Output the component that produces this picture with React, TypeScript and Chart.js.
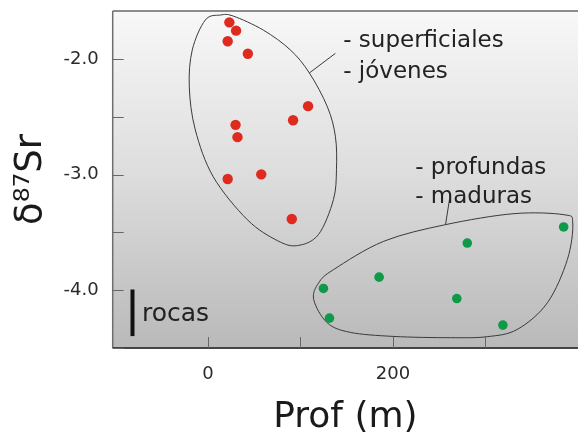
import React, { useEffect, useRef } from "react";
import { Chart, registerables } from "chart.js";

Chart.register(...registerables);

// ---- data ----
const youngX = [23.1, 30.4, 21.3, 43.1, 108.2, 92.0, 29.8, 31.9, 21.3, 57.6, 90.6];
const youngY = [-1.683, -1.755, -1.847, -1.955, -2.408, -2.53, -2.57, -2.676, -3.038, -2.998, -3.384];
const oldX = [384.5, 280.3, 185.0, 124.8, 269.0, 131.3, 318.8];
const oldY = [-3.453, -3.592, -3.887, -3.985, -4.072, -4.242, -4.302];

const xTickValues = [0, 100, 200, 300, 400];
const xTickLabels = [0, 200];
const yTickValues = [-4.5, -4.0, -3.5, -3.0, -2.5, -2.0];
const yTickLabels = [-4.0, -3.0, -2.0];

// group outlines (data coordinates)
const youngOutlineX = [-2.9, 13.3, 27.4, 59.8, 89.1, 109.6, 129.1, 137.8, 138.9, 135.6, 119.4, 96.6, 75.0, 42.5, 5.7, -13.7, -20.2, -17.0];
const youngOutlineY = [-1.663, -1.62, -1.629, -1.75, -1.922, -2.121, -2.414, -2.673, -2.958, -3.217, -3.519, -3.614, -3.571, -3.39, -3.019, -2.613, -2.242, -1.922];
const oldOutlineX = [114.3, 128.8, 154.0, 200.9, 262.0, 301.9, 334.4, 366.9, 388.5, 394.3, 384.8, 330.7, 256.8, 190.0, 135.9, 119.7];
const oldOutlineY = [-4.08, -4.281, -4.365, -4.4, -4.411, -4.402, -4.339, -4.109, -3.735, -3.418, -3.347, -3.338, -3.433, -3.577, -3.821, -3.936];

// leader lines [x0, y0, x1, y1]
const youngLeader = [109.6, -2.121, 137.8, -1.951];
const oldLeader = [256.8, -3.433, 261.2, -3.209];

// annotation labels
const youngLabels = ["- superficiales", "- jóvenes"];
const youngLabelX = [146.2, 146.2];
const youngLabelY = [-1.845, -2.11];
const oldLabels = ["- profundas", "- maduras"];
const oldLabelX = [224.0, 224.0];
const oldLabelY = [-2.941, -3.191];
const rocasLabel = "rocas";
const rocasBarX = -81.6;
const rocasBarY = [-3.994, -4.397];
const rocasLabelX = -71.4;
const rocasLabelY = -4.21;

const FONT = "'DejaVu Sans', sans-serif";

function closedSpline(ctx: CanvasRenderingContext2D, pts: { x: number; y: number }[], t = 0.5) {
  const n = pts.length;
  ctx.beginPath();
  ctx.moveTo(pts[0].x, pts[0].y);
  for (let i = 0; i < n; i++) {
    const p0 = pts[(i - 1 + n) % n];
    const p1 = pts[i];
    const p2 = pts[(i + 1) % n];
    const p3 = pts[(i + 2) % n];
    const c1x = p1.x + ((p2.x - p0.x) / 6) * t * 2;
    const c1y = p1.y + ((p2.y - p0.y) / 6) * t * 2;
    const c2x = p2.x - ((p3.x - p1.x) / 6) * t * 2;
    const c2y = p2.y - ((p3.y - p1.y) / 6) * t * 2;
    ctx.bezierCurveTo(c1x, c1y, c2x, c2y, p2.x, p2.y);
  }
  ctx.closePath();
}

const decorPlugin = {
  id: "decor",
  beforeDraw(chart: any) {
    const { ctx, chartArea: a } = chart;
    const g = ctx.createLinearGradient(0, a.top, 0, a.bottom);
    g.addColorStop(0, "#f8f8f8");
    g.addColorStop(0.5, "#dcdcdc");
    g.addColorStop(1, "#b9b9b9");
    ctx.save();
    ctx.fillStyle = g;
    ctx.fillRect(a.left, a.top, a.right - a.left, a.bottom - a.top);
    ctx.restore();
  },
  beforeDatasetsDraw(chart: any) {
    const { ctx } = chart;
    const xs = chart.scales.x;
    const ys = chart.scales.y;
    const P = (x: number, y: number) => ({ x: xs.getPixelForValue(x), y: ys.getPixelForValue(y) });
    ctx.save();
    ctx.strokeStyle = "#3a3a3a";
    ctx.lineWidth = 1;
    closedSpline(ctx, youngOutlineX.map((x, i) => P(x, youngOutlineY[i])));
    ctx.stroke();
    closedSpline(ctx, oldOutlineX.map((x, i) => P(x, oldOutlineY[i])));
    ctx.stroke();
    for (const L of [youngLeader, oldLeader]) {
      const a = P(L[0], L[1]);
      const b = P(L[2], L[3]);
      ctx.beginPath();
      ctx.moveTo(a.x, a.y);
      ctx.lineTo(b.x, b.y);
      ctx.stroke();
    }
    ctx.restore();
  },
  afterDraw(chart: any) {
    const { ctx, chartArea: a } = chart;
    const xs = chart.scales.x;
    const ys = chart.scales.y;
    ctx.save();
    // frame
    ctx.strokeStyle = "#8c8c8c";
    ctx.lineWidth = 2;
    ctx.beginPath();
    ctx.moveTo(a.left, a.top);
    ctx.lineTo(a.right, a.top);
    ctx.stroke();
    ctx.strokeStyle = "#6e6e6e";
    ctx.lineWidth = 1.5;
    ctx.beginPath();
    ctx.moveTo(a.left, a.top);
    ctx.lineTo(a.left, a.bottom);
    ctx.stroke();
    ctx.strokeStyle = "#454545";
    ctx.lineWidth = 2;
    ctx.beginPath();
    ctx.moveTo(a.left, a.bottom);
    ctx.lineTo(a.right, a.bottom);
    ctx.stroke();
    // inward ticks
    ctx.strokeStyle = "#666";
    ctx.lineWidth = 1;
    for (const v of xTickValues) {
      const px = Math.round(xs.getPixelForValue(v)) + 0.5;
      ctx.beginPath();
      ctx.moveTo(px, a.bottom);
      ctx.lineTo(px, a.bottom - 11);
      ctx.stroke();
    }
    for (const v of yTickValues) {
      const py = Math.round(ys.getPixelForValue(v)) + 0.5;
      ctx.beginPath();
      ctx.moveTo(a.left, py);
      ctx.lineTo(a.left + 11, py);
      ctx.stroke();
    }
    // annotations
    ctx.fillStyle = "#222";
    ctx.textAlign = "left";
    ctx.textBaseline = "middle";
    ctx.font = `23px ${FONT}`;
    youngLabels.forEach((t, i) => ctx.fillText(t, xs.getPixelForValue(youngLabelX[i]), ys.getPixelForValue(youngLabelY[i])));
    oldLabels.forEach((t, i) => ctx.fillText(t, xs.getPixelForValue(oldLabelX[i]), ys.getPixelForValue(oldLabelY[i])));
    ctx.font = `25px ${FONT}`;
    ctx.fillText(rocasLabel, xs.getPixelForValue(rocasLabelX), ys.getPixelForValue(rocasLabelY));
    ctx.strokeStyle = "#111";
    ctx.lineWidth = 4;
    ctx.beginPath();
    const bx = xs.getPixelForValue(rocasBarX);
    ctx.moveTo(bx, ys.getPixelForValue(rocasBarY[0]));
    ctx.lineTo(bx, ys.getPixelForValue(rocasBarY[1]));
    ctx.stroke();
    ctx.restore();
  },
};

export default function App() {
  const ref = useRef<HTMLCanvasElement>(null);
  useEffect(() => {
    if (!ref.current) return;
    const chart = new Chart(ref.current, {
      type: "scatter",
      data: {
        datasets: [
          {
            label: "superficiales - jóvenes",
            data: youngX.map((x, i) => ({ x, y: youngY[i] })),
            backgroundColor: "#de2a1f",
            borderWidth: 0,
            pointRadius: 5.2,
          },
          {
            label: "profundas - maduras",
            data: oldX.map((x, i) => ({ x, y: oldY[i] })),
            backgroundColor: "#0e9a48",
            borderWidth: 0,
            pointRadius: 4.8,
          },
        ],
      },
      options: {
        responsive: false,
        animation: false,
        layout: { autoPadding: false, padding: { top: 11, left: 0, right: 0, bottom: 0 } },
        plugins: { legend: { display: false }, tooltip: { enabled: false } },
        scales: {
          x: {
            type: "linear",
            min: -103,
            max: 400,
            afterBuildTicks: (s: any) => {
              s.ticks = xTickValues.map((v) => ({ value: v }));
            },
            afterFit: (s: any) => {
              s.height = 86;
              s.paddingLeft = 0;
              s.paddingRight = 0;
              s.paddingTop = 0;
              s.paddingBottom = 0;
            },
            grid: { display: false, drawTicks: false },
            border: { display: false },
            ticks: {
              padding: 16,
              maxRotation: 0,
              autoSkip: false,
              color: "#2a2a2a",
              font: { family: FONT, size: 18 },
              callback: (v: any) => (xTickLabels.includes(Number(v)) ? String(v) : ""),
            },
            title: {
              display: true,
              text: "Prof (m)",
              color: "#1a1a1a",
              font: { family: FONT, size: 36 },
              padding: { top: 0, bottom: -5 },
            },
          },
          y: {
            type: "linear",
            min: -4.5,
            max: -1.585,
            afterBuildTicks: (s: any) => {
              s.ticks = yTickValues.map((v) => ({ value: v }));
            },
            afterFit: (s: any) => {
              s.width = 112.7;
              s.paddingLeft = 0;
              s.paddingRight = 0;
              s.paddingTop = 0;
              s.paddingBottom = 0;
            },
            grid: { display: false, drawTicks: false },
            border: { display: false },
            ticks: {
              padding: 14,
              autoSkip: false,
              color: "#2a2a2a",
              font: { family: FONT, size: 18 },
              callback: (v: any) => (yTickLabels.includes(Number(v)) ? Number(v).toFixed(1) : ""),
            },
            title: {
              display: true,
              text: "δ⁸⁷Sr",
              color: "#1a1a1a",
              font: { family: FONT, size: 37 },
              padding: { top: 9, bottom: 0 },
            },
          },
        },
      },
      plugins: [decorPlugin],
    });
    return () => chart.destroy();
  }, []);
  return (
    <div style={{ position: "fixed", left: 0, top: 0, width: 578, height: 434, background: "#fff" }}>
      <canvas ref={ref} width={578} height={434} style={{ display: "block" }} />
    </div>
  );
}
